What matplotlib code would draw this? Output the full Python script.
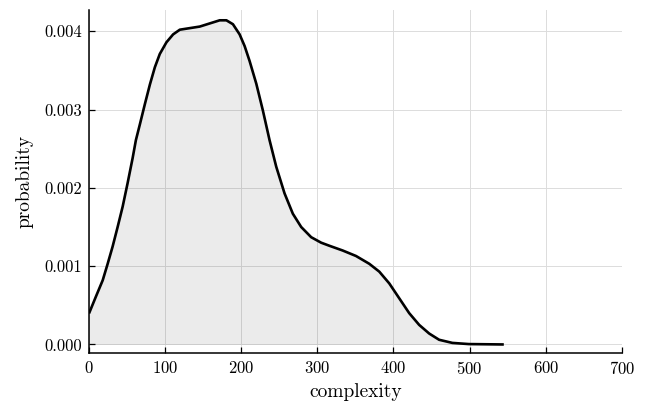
import matplotlib
matplotlib.use("Agg")
import matplotlib.pyplot as plt
from matplotlib.ticker import FormatStrFormatter

# density estimate
complexity = [0, 9, 18, 24.5, 31, 37.6, 44.2, 50.7, 57.3, 61.6, 66.8, 73.4, 80,
              86.5, 93, 101.8, 110.5, 119.3, 132.4, 145.5, 158.6, 171.7, 180.5,
              189.1, 197.9, 204.5, 211, 219.8, 228.4, 237.2, 246, 256.9, 267.8,
              278.8, 291.9, 305, 316, 333.3, 350.8, 368.3, 381.4, 394.5, 407.6,
              420.7, 433.8, 446.9, 460, 477.4, 499, 545]
probability = [0.000396, 0.00061, 0.00082, 0.00103, 0.00125, 0.00150, 0.00176,
               0.00206, 0.00238, 0.00261, 0.00281, 0.00307, 0.00332, 0.00354,
               0.00371, 0.00386, 0.00396, 0.00402, 0.00404, 0.00406, 0.00410,
               0.00414, 0.00414, 0.00409, 0.00396, 0.00381, 0.00362, 0.00333,
               0.00299, 0.00261, 0.00227, 0.00193, 0.00167, 0.00150, 0.00137,
               0.00130, 0.00126, 0.00120, 0.00113, 0.00103, 0.00093, 0.00078,
               0.00059, 0.00040, 0.00025, 0.00014, 0.00006, 0.00002, 0.000005,
               0.0]

xticks = [0, 100, 200, 300, 400, 500, 600, 700]
yticks = [0.000, 0.001, 0.002, 0.003, 0.004]

plt.rcParams['font.family'] = ['cmr10', 'DejaVu Serif']
plt.rcParams['axes.formatter.use_mathtext'] = True

fig = plt.figure(figsize=(6.45, 4.05), dpi=100)
ax = fig.add_axes([0.138, 0.128, 0.826, 0.847])

ax.fill_between(complexity, 0, probability, color='black', alpha=0.08, linewidth=0)
ax.plot(complexity, probability, color='black', linewidth=1.9,
        solid_joinstyle='round', solid_capstyle='butt')

ax.set_xlim(0, 700)
ax.set_ylim(-0.000111, 0.00427)
ax.set_xticks(xticks)
ax.set_yticks(yticks)
ax.yaxis.set_major_formatter(FormatStrFormatter('%.3f'))
ax.grid(True, color='#dcdcdc', linewidth=0.7)
ax.set_axisbelow(True)

for s in ['top', 'right']:
    ax.spines[s].set_visible(False)
for s in ['left', 'bottom']:
    ax.spines[s].set_linewidth(1.1)
ax.tick_params(direction='in', length=4, width=0.9, labelsize=12, pad=5)

ax.set_xlabel('complexity', fontsize=14, labelpad=4)
ax.set_ylabel('probability', fontsize=14, labelpad=8)

fig.savefig('out.png', dpi=100)
